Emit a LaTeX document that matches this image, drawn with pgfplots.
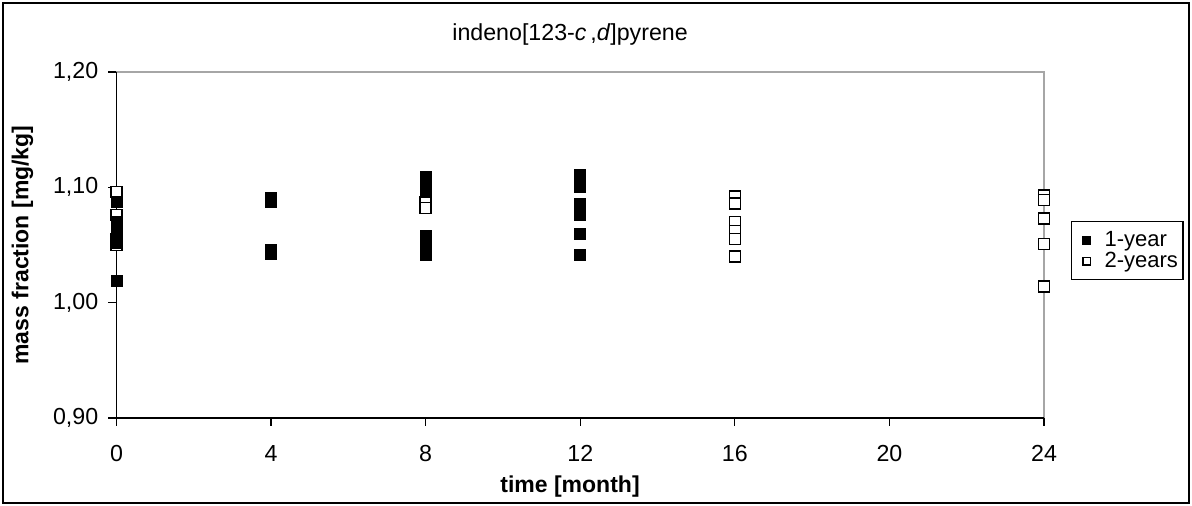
\documentclass[border=0pt]{standalone}
\usepackage{fontspec}
\setmainfont{Liberation Sans}
\usepackage{pgfplots}
\pgfplotsset{compat=1.18}

% stability study: mass fraction per storage time
\pgfplotstableread{
t    w
0    1.087
0    1.070
0    1.064
0    1.058
0    1.052
0    1.019
4    1.091
4    1.087
4    1.046
4    1.042
8    1.109
8    1.104
8    1.098
8    1.058
8    1.052
8    1.046
8    1.041
12   1.111
12   1.100
12   1.086
12   1.076
12   1.060
12   1.041
}\oneyear

\pgfplotstableread{
t    w
0    1.096
0    1.076
0    1.055
0    1.050
8    1.087
8    1.082
16   1.092
16   1.086
16   1.070
16   1.062
16   1.055
16   1.040
24   1.093
24   1.089
24   1.073
24   1.051
24   1.014
}\twoyears

\begin{document}
\begin{tikzpicture}[x=1pt,y=1pt]
\useasboundingbox (0,0) rectangle (596,253);
\draw[black, line width=0.8pt] (1.6,1.6) rectangle (594.4,251.4);
\begin{axis}[
  at={(58.25pt,44pt)}, anchor=south west,
  scale only axis, width=463.75pt, height=173pt,
  xmin=0, xmax=24, ymin=0.9, ymax=1.2,
  axis line style={draw=none},
  xtick={0,4,...,24}, ytick={0.9,1.0,1.1,1.2},
  xtick pos=bottom, ytick pos=left,
  tick align=outside, major tick length=4pt,
  tick style={black, line width=0.6pt},
  /pgf/number format/assume math mode=true,
  yticklabel style={/pgf/number format/.cd, fixed, fixed zerofill, precision=2, use comma, /tikz/.cd, xshift=-1.6pt},
  xticklabel style={yshift=-6pt},
  tick label style={font=\fontsize{11.6}{13}\selectfont},
  title={indeno[123-\textit{c}\,,\textit{d}]pyrene},
  title style={at={(axis description cs:0.489,1.075)}, anchor=center, yshift=0pt, font=\fontsize{11.6}{13}\selectfont},
  xlabel={time [month]},
  xlabel style={at={(axis description cs:0.489,-0.199)}, anchor=center, font=\fontsize{11.5}{13}\selectfont\bfseries},
  ylabel={mass fraction [mg/kg]},
  ylabel style={at={(axis description cs:-0.1014,0.5)}, anchor=center, font=\fontsize{11.5}{13}\selectfont\bfseries},
  reverse legend,
  legend style={at={(axis description cs:1.0291,0.483)}, anchor=west, draw=black, line width=0.6pt,
    font=\fontsize{11}{13}\selectfont, inner xsep=2pt, inner ysep=4pt, row sep=0pt,
    nodes={inner xsep=0.5pt, inner ysep=0pt, text height=8.2pt, text depth=2.3pt},
    cells={anchor=west}},
  legend image code/.code={
    \path[draw=none, fill=none] (0pt,0pt) -- (14pt,0pt);
    \draw[#1, mark size=1.9pt, line width=0.5pt] plot coordinates {(5.5pt,0pt)};},
  clip=false,
]
\draw[gray!70, line width=0.6pt] (rel axis cs:0,1) -- (rel axis cs:1,1) -- (rel axis cs:1,0);
\draw[black, line width=0.6pt] (rel axis cs:0,1) -- (rel axis cs:0,0) -- (rel axis cs:1,0);
\addplot[only marks, mark=square*, mark size=2.75pt, mark options={draw=black, fill=white, line width=0.75pt}] table[x=t, y=w] {\twoyears};
\addlegendentry{2-years}
\addplot[only marks, mark=square*, mark size=2.75pt, mark options={draw=black, fill=black, line width=0.4pt}] table[x=t, y=w] {\oneyear};
\addlegendentry{1-year}
\end{axis}
\end{tikzpicture}
\end{document}
